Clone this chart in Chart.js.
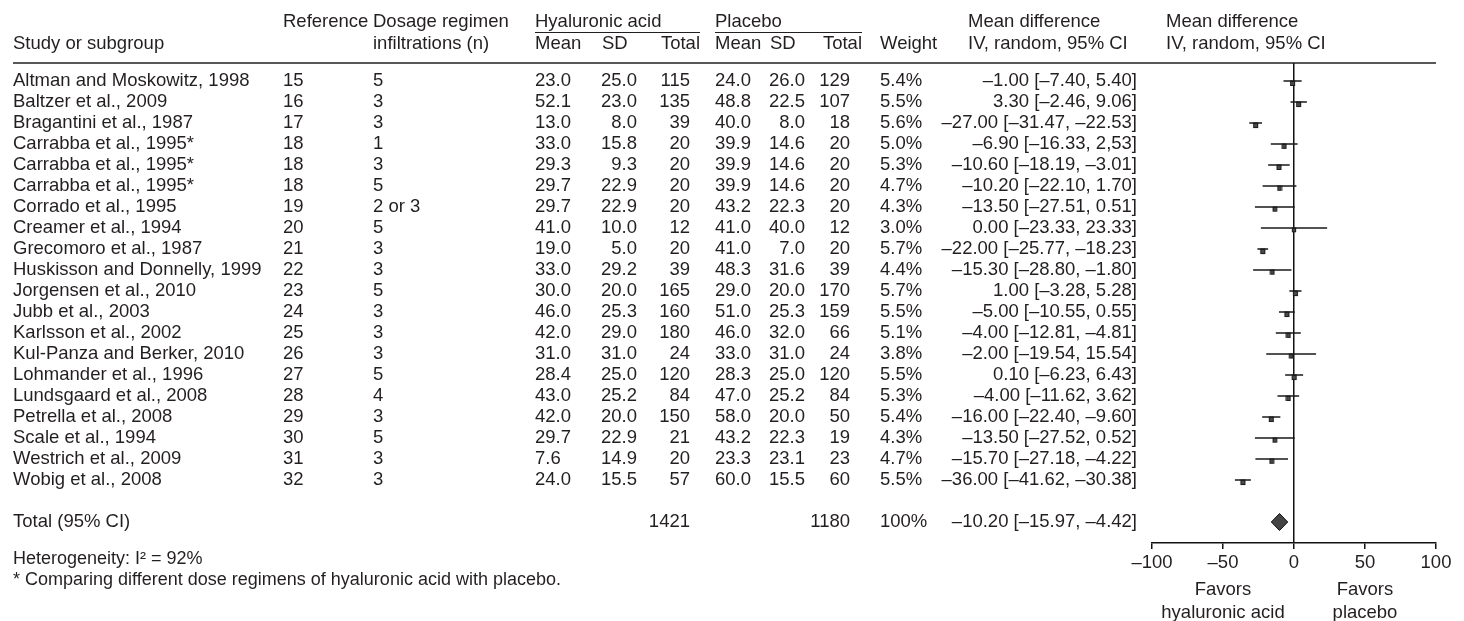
<!DOCTYPE html>
<html>
<head>
<meta charset="utf-8">
<script src="https://cdn.jsdelivr.net/npm/chart.js@4.4.0/dist/chart.umd.min.js"></script>
<style>
  html, body { margin: 0; padding: 0; background: #fff; }
  #wrap { width: 1464px; height: 621px; position: relative; }
</style>
</head>
<body>
<div id="wrap"><canvas id="forest"></canvas></div>
<script>
const studies = [
  'Altman and Moskowitz, 1998', 'Baltzer et al., 2009', 'Bragantini et al., 1987',
  'Carrabba et al., 1995*', 'Carrabba et al., 1995*', 'Carrabba et al., 1995*',
  'Corrado et al., 1995', 'Creamer et al., 1994', 'Grecomoro et al., 1987',
  'Huskisson and Donnelly, 1999', 'Jorgensen et al., 2010', 'Jubb et al., 2003',
  'Karlsson et al., 2002', 'Kul-Panza and Berker, 2010', 'Lohmander et al., 1996',
  'Lundsgaard et al., 2008', 'Petrella et al., 2008', 'Scale et al., 1994',
  'Westrich et al., 2009', 'Wobig et al., 2008'
];
const refs = [15, 16, 17, 18, 18, 18, 19, 20, 21, 22, 23, 24, 25, 26, 27, 28, 29, 30, 31, 32];
const dosage = ['5', '3', '3', '1', '3', '5', '2 or 3', '5', '3', '3', '5', '3', '3', '3', '5', '4', '3', '5', '3', '3'];
const haMean = [23.0, 52.1, 13.0, 33.0, 29.3, 29.7, 29.7, 41.0, 19.0, 33.0, 30.0, 46.0, 42.0, 31.0, 28.4, 43.0, 42.0, 29.7, 7.6, 24.0];
const haSD = [25.0, 23.0, 8.0, 15.8, 9.3, 22.9, 22.9, 10.0, 5.0, 29.2, 20.0, 25.3, 29.0, 31.0, 25.0, 25.2, 20.0, 22.9, 14.9, 15.5];
const haTotal = [115, 135, 39, 20, 20, 20, 20, 12, 20, 39, 165, 160, 180, 24, 120, 84, 150, 21, 20, 57];
const plMean = [24.0, 48.8, 40.0, 39.9, 39.9, 39.9, 43.2, 41.0, 41.0, 48.3, 29.0, 51.0, 46.0, 33.0, 28.3, 47.0, 58.0, 43.2, 23.3, 60.0];
const plSD = [26.0, 22.5, 8.0, 14.6, 14.6, 14.6, 22.3, 40.0, 7.0, 31.6, 20.0, 25.3, 32.0, 31.0, 25.0, 25.2, 20.0, 22.3, 23.1, 15.5];
const plTotal = [129, 107, 18, 20, 20, 20, 20, 12, 20, 39, 170, 159, 66, 24, 120, 84, 50, 19, 23, 60];
const weights = [5.4, 5.5, 5.6, 5.0, 5.3, 4.7, 4.3, 3.0, 5.7, 4.4, 5.7, 5.5, 5.1, 3.8, 5.5, 5.3, 5.4, 4.3, 4.7, 5.5];
const md = [-1.00, 3.30, -27.00, -6.90, -10.60, -10.20, -13.50, 0.00, -22.00, -15.30, 1.00, -5.00, -4.00, -2.00, 0.10, -4.00, -16.00, -13.50, -15.70, -36.00];
const ciLow = [-7.40, -2.46, -31.47, -16.33, -18.19, -22.10, -27.51, -23.33, -25.77, -28.80, -3.28, -10.55, -12.81, -19.54, -6.23, -11.62, -22.40, -27.52, -27.18, -41.62];
const ciHigh = [5.40, 9.06, -22.53, 2.53, -3.01, 1.70, 0.51, 23.33, -18.23, -1.80, 5.28, 0.55, 4.81, 15.54, 6.43, 3.62, -9.60, 0.52, -4.22, -30.38];
// printed as in the source table (typos included)
const ciText = [
  '–1.00 [–7.40, 5.40]', '3.30 [–2.46, 9.06]', '–27.00 [–31.47, –22.53]',
  '–6.90 [–16.33, 2,53]', '–10.60 [–18.19, –3.01]', '–10.20 [–22.10, 1.70]',
  '–13.50 [–27.51, 0.51]', '0.00 [–23.33, 23.33]', '–22.00 [–25.77, –18.23]',
  '–15.30 [–28.80, –1.80]', '1.00 [–3.28, 5.28]', '–5.00 [–10.55, 0.55]',
  '–4.00 [–12.81, –4.81]', '–2.00 [–19.54, 15.54]', '0.10 [–6.23, 6.43]',
  '–4.00 [–11.62, 3.62]', '–16.00 [–22.40, –9.60]', '–13.50 [–27.52, 0.52]',
  '–15.70 [–27.18, –4.22]', '–36.00 [–41.62, –30.38]'
];
const totalHA = 1421;
const totalPl = 1180;
const totalWeight = '100%';
const totalMd = -10.20, totalLow = -15.97, totalHigh = -4.42;
const totalText = '–10.20 [–15.97, –4.42]';
const xTicks = [-100, -50, 0, 50, 100];

const totalRow = studies.length + 1;
const FONT = '18.5px "Liberation Sans", Arial, Helvetica, sans-serif';
const FOOT_FONT = '18px "Liberation Sans", Arial, Helvetica, sans-serif';
const INK = '#231f20';

// small square hanging under the CI line
function markerImage(w) {
  const side = 3.4 + w * 0.3;
  const size = Math.ceil(side) + 1;
  const c = document.createElement('canvas');
  c.width = size; c.height = size * 2;
  const g = c.getContext('2d');
  g.fillStyle = '#1c1c1c';
  g.fillRect((size - side) / 2, size - 0.5, side, side + 0.5);
  g.fillStyle = '#4a4a4a';
  g.fillRect((size - side) / 2 + 1, size + 0.5, side - 2, side - 1.5);
  return c;
}

const ciLines = [];
studies.forEach((s, i) => {
  ciLines.push({x: ciLow[i], y: i}, {x: ciHigh[i], y: i}, {x: ciHigh[i], y: null});
});

const tablePlugin = {
  id: 'table',
  afterDraw(chart) {
    const ctx = chart.ctx;
    const xs = chart.scales.x, ys = chart.scales.y;
    ctx.save();
    ctx.font = FONT;
    ctx.fillStyle = INK;
    ctx.textBaseline = 'middle';
    const t = (s, x, y, a) => { ctx.textAlign = a || 'left'; ctx.fillText(s, x, y); };

    // header
    const h1 = 22, h2 = 44;
    t('Reference', 283, h1); t('Dosage regimen', 373, h1);
    t('Hyaluronic acid', 535, h1); t('Placebo', 715, h1);
    t('Mean difference', 968, h1); t('Mean difference', 1166, h1);
    t('Study or subgroup', 13, h2); t('infiltrations (n)', 373, h2);
    t('Mean', 535, h2); t('SD', 602, h2); t('Total', 700, h2, 'right');
    t('Mean', 715, h2); t('SD', 770, h2); t('Total', 862, h2, 'right');
    t('Weight', 880, h2);
    t('IV, random, 95% CI', 968, h2); t('IV, random, 95% CI', 1166, h2);

    ctx.strokeStyle = INK;
    ctx.lineWidth = 1;
    ctx.beginPath();
    ctx.moveTo(535, 32.5); ctx.lineTo(700, 32.5);
    ctx.moveTo(715, 32.5); ctx.lineTo(862, 32.5);
    ctx.stroke();
    ctx.lineWidth = 1.5;
    ctx.beginPath();
    ctx.moveTo(13, chart.chartArea.top); ctx.lineTo(xs.right, chart.chartArea.top);
    ctx.stroke();

    studies.forEach((s, i) => {
      const y = ys.getPixelForValue(i);
      t(s, 13, y);
      t(String(refs[i]), 283, y);
      t(dosage[i], 373, y);
      t(haMean[i].toFixed(1), 535, y);
      t(haSD[i].toFixed(1), 637, y, 'right');
      t(String(haTotal[i]), 690, y, 'right');
      t(plMean[i].toFixed(1), 715, y);
      t(plSD[i].toFixed(1), 805, y, 'right');
      t(String(plTotal[i]), 850, y, 'right');
      t(weights[i].toFixed(1) + '%', 880, y);
      t(ciText[i], 1137, y, 'right');
    });

    const yt = ys.getPixelForValue(totalRow);
    t('Total (95% CI)', 13, yt);
    t(String(totalHA), 690, yt, 'right');
    t(String(totalPl), 850, yt, 'right');
    t(totalWeight, 880, yt);
    t(totalText, 1137, yt, 'right');

    ctx.font = FOOT_FONT;
    t('Heterogeneity: I² = 92%', 13, 559);
    t('* Comparing different dose regimens of hyaluronic acid with placebo.', 13, 580);
    ctx.font = FONT;

    // summary diamond
    const xl = xs.getPixelForValue(totalLow), xm = xs.getPixelForValue(totalMd), xr = xs.getPixelForValue(totalHigh);
    ctx.beginPath();
    ctx.moveTo(xl, yt); ctx.lineTo(xm, yt - 8.5); ctx.lineTo(xr, yt); ctx.lineTo(xm, yt + 8.5); ctx.closePath();
    ctx.fillStyle = '#444';
    ctx.fill();
    ctx.lineWidth = 1;
    ctx.strokeStyle = '#111';
    ctx.stroke();

    // favours labels under the axis
    ctx.fillStyle = INK;
    const fl = xs.getPixelForValue(-50), fr = xs.getPixelForValue(50);
    t('Favors', fl, 590, 'center'); t('hyaluronic acid', fl, 613, 'center');
    t('Favors', fr, 590, 'center'); t('placebo', fr, 613, 'center');
    ctx.restore();
  }
};

new Chart(document.getElementById('forest'), {
  type: 'scatter',
  data: {
    datasets: [
      {
        label: 'CI',
        data: ciLines,
        showLine: true,
        spanGaps: false,
        borderColor: '#1a1a1a',
        borderWidth: 1.5,
        pointRadius: 0
      },
      {
        label: 'Mean difference',
        data: md.map((v, i) => ({x: v, y: i})),
        pointStyle: weights.map(markerImage),
        pointRadius: 4
      }
    ]
  },
  options: {
    responsive: true,
    maintainAspectRatio: false,
    animation: false,
    layout: { padding: { left: 1152, right: 28, top: 63, bottom: 0 } },
    plugins: { legend: { display: false }, tooltip: { enabled: false } },
    scales: {
      x: {
        type: 'linear',
        min: -100,
        max: 100,
        afterFit: s => { s.height = 78; },
        afterBuildTicks: s => { s.ticks = xTicks.map(v => ({value: v})); },
        ticks: {
          color: INK,
          font: { family: '"Liberation Sans", Arial, sans-serif', size: 18.5 },
          padding: 3,
          maxRotation: 0,
          callback: v => v < 0 ? '–' + (-v) : String(v)
        },
        grid: {
          drawOnChartArea: true,
          color: c => (c.tick && c.tick.value === 0) ? '#111' : 'rgba(0,0,0,0)',
          tickColor: '#111',
          tickLength: 6,
          lineWidth: 1.5
        },
        border: { display: true, color: '#111', width: 1.5 }
      },
      y: {
        type: 'linear',
        display: false,
        reverse: true,
        min: -6 / 7,
        max: 22
      }
    }
  },
  plugins: [tablePlugin]
});
</script>
</body>
</html>
